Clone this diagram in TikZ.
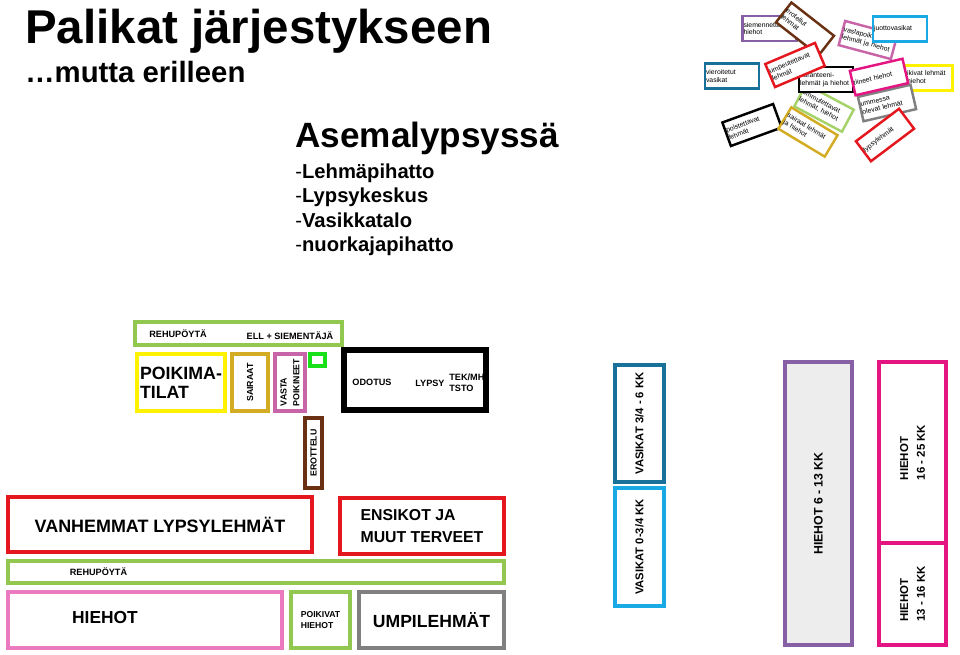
\documentclass[tikz,border=0pt]{standalone}
\usepackage{fontspec}
\setmainfont{Liberation Sans}
\usepackage{tikz}
\usepackage{xcolor}

\definecolor{penred}{RGB}{228,22,30}
\definecolor{pengreen}{RGB}{146,200,80}
\definecolor{lightgreen}{RGB}{165,210,105}
\definecolor{brightgreen}{RGB}{25,225,25}
\definecolor{penyellow}{RGB}{255,242,0}
\definecolor{pengold}{RGB}{212,172,35}
\definecolor{penorchid}{RGB}{200,100,168}
\definecolor{penpink}{RGB}{236,122,190}
\definecolor{penmagenta}{RGB}{228,20,130}
\definecolor{penbrown}{RGB}{105,48,18}
\definecolor{pengray}{RGB}{128,128,128}
\definecolor{penteal}{RGB}{25,112,152}
\definecolor{pensky}{RGB}{25,170,230}
\definecolor{penlilac}{RGB}{135,95,165}

\begin{document}
\begin{tikzpicture}[x=0.02cm, y=-0.02cm,
    pen/.style={rectangle, draw, fill=white, line width=2.3pt, inner sep=0pt},
    card/.style={rectangle, draw, fill=white, line width=1.4pt, minimum height=0.5cm,
      text width=1.04cm, inner xsep=0.02cm, inner ysep=1pt, align=left,
      font=\fontsize{3.9}{4.5}\selectfont},
    smalltxt/.style={inner sep=0pt, font=\bfseries\fontsize{5.2}{6.3}\selectfont},
    heading/.style={anchor=base west, inner sep=0pt}
  ]
  \useasboundingbox (0,0) rectangle (960,654);

  % otsikot
  \node[heading, font=\bfseries\fontsize{27}{30}\selectfont] (title) at (25,43) {Palikat järjestykseen};
  \node[heading, font=\bfseries\fontsize{16.7}{19}\selectfont] (subtitle) at (25,82) {…mutta erilleen};
  \node[heading, font=\bfseries\fontsize{20}{24}\selectfont] (station) at (295,147) {Asemalypsyssä};
  \node[heading, font=\fontsize{11.5}{13}\selectfont] (cowshed) at (295,178) {-\textbf{Lehmäpihatto}};
  \node[heading, font=\fontsize{11.5}{13}\selectfont] (milkcentre) at (295,202) {-\textbf{Lypsykeskus}};
  \node[heading, font=\fontsize{11.5}{13}\selectfont] (calfhouse) at (295,227) {-\textbf{Vasikkatalo}};
  \node[heading, font=\fontsize{11.5}{13}\selectfont] (youngshed) at (295,251) {-\textbf{nuorkajapihatto}};

  % palikat sekaisin
  \node[card, draw=penlilac] (seed) at (769.5,28.5) {siemennettävät\\hiehot};
  \node[card, draw=penbrown, rotate=-38] (sep) at (805,29) {erotellut\\lehmät};
  \node[card, draw=lightgreen, rotate=-28] (dryoff2) at (824,108) {ummutettavat\\lehmät, hiehot};
  \node[card, draw=black] (quar) at (826,79.5) {karanteeni-\\lehmät ja hiehot};
  \node[card, draw=penred, rotate=23] (dryoff) at (795,65) {umpeutettavat\\lehmät};
  \node[card, draw=black, rotate=20] (cull) at (752,125) {poistettavat\\lehmät};
  \node[card, draw=pengold, rotate=-31] (sickcows) at (808,132) {sairaat lehmät\\ja hiehot};
  \node[card, draw=penorchid, rotate=-15] (freshcows) at (868,40) {vastapoikineet\\lehmät ja hiehot};
  \node[card, draw=pensky] (milkcalves) at (900,29) {juottovasikat};
  \node[card, draw=yellow] (calving) at (925.5,78) {poikivat lehmät\\ja hiehot};
  \node[card, draw=pengray, rotate=13] (drycows) at (887,103) {ummessa\\olevat lehmät};
  \node[card, draw=penmagenta, rotate=13] (pregnant) at (879,77) {tiineet hiehot};
  \node[card, draw=penred, rotate=37] (milking) at (885,135) {lypsylehmät};
  \node[card, draw=penteal] (weaned) at (732,76) {vieroitetut\\vasikat};

  % lehmapihatto
  \node[pen, draw=pengreen, minimum width=4.14cm, minimum height=0.46cm] (feedtop) at (238.5,333.5) {};
  \node[smalltxt] (feedtoptxt) at (178,334) {REHUPÖYTÄ};
  \node[smalltxt] (vet) at (290,336) {ELL + SIEMENTÄJÄ};
  \node[pen, draw=penyellow, minimum width=1.76cm, minimum height=1.14cm, align=left,
    font=\bfseries\fontsize{10.1}{11}\selectfont] (calvpen) at (181,382.5) {POIKIMA-\\TILAT};
  \node[pen, draw=pengold, rotate=90, minimum width=1.14cm, minimum height=0.72cm,
    font=\bfseries\fontsize{5}{6}\selectfont] (sick) at (250,382.5) {SAIRAAT};
  \node[pen, draw=penorchid, rotate=90, minimum width=1.14cm, minimum height=0.6cm, align=left,
    font=\bfseries\fontsize{5}{7.2}\selectfont] (fresh) at (290,382.5) {VASTA\\POIKINEET};
  \node[pen, draw=brightgreen, minimum width=0.3cm, minimum height=0.24cm] (gate) at (317.5,360) {};
  \node[pen, draw=penbrown, rotate=90, minimum width=1.4cm, minimum height=0.34cm,
    font=\bfseries\fontsize{5}{6}\selectfont] (sorting) at (313.5,453) {EROTTELU};
  \node[pen, draw=black, line width=3.4pt, minimum width=2.84cm, minimum height=1.2cm] (parlour) at (415,380) {};
  \node[smalltxt] (waiting) at (372,382) {ODOTUS};
  \node[smalltxt] (milkroom) at (430,383) {LYPSY};
  \node[smalltxt, anchor=west, align=left] (office) at (449,382.5) {TEK/MH\\TSTO};
  \node[pen, draw=penred, minimum width=6.08cm, minimum height=1.1cm,
    font=\bfseries\fontsize{10.2}{12}\selectfont] (oldcows) at (160,524.5) {VANHEMMAT LYPSYLEHMÄT};
  \node[pen, draw=penred, minimum width=3.28cm, minimum height=1.12cm, align=left,
    font=\bfseries\fontsize{9}{12.5}\selectfont] (firstcalvers) at (422,526) {ENSIKOT JA\\MUUT TERVEET};
  \node[pen, draw=pengreen, minimum width=9.92cm, minimum height=0.44cm] (feedlow) at (256,572) {};
  \node[smalltxt] (feedlowtxt) at (98.5,572) {REHUPÖYTÄ};
  \node[pen, draw=penpink, minimum width=5.48cm, minimum height=1.12cm] (heifers) at (145,620) {};
  \node[inner sep=0pt, font=\bfseries\fontsize{9.9}{12}\selectfont] (heiferstxt) at (105,617) {HIEHOT};
  \node[pen, draw=pengreen, minimum width=1.18cm, minimum height=1.12cm, align=left,
    font=\bfseries\fontsize{4.9}{6.3}\selectfont] (calvheif) at (320.5,620) {POIKIVAT\\HIEHOT};
  \node[pen, draw=pengray, minimum width=2.9cm, minimum height=1.12cm,
    font=\bfseries\fontsize{10}{12}\selectfont] (dry) at (431.5,620) {UMPILEHMÄT};

  % vasikkatalo
  \node[pen, draw=penteal, rotate=90, minimum width=2.34cm, minimum height=0.98cm,
    font=\bfseries\fontsize{6.4}{8}\selectfont] (calvesold) at (639.5,423.5) {VASIKAT 3/4 - 6 KK};
  \node[pen, draw=pensky, rotate=90, minimum width=2.36cm, minimum height=0.98cm,
    font=\bfseries\fontsize{6.4}{8}\selectfont] (calvesyoung) at (639.5,547) {VASIKAT 0-3/4 KK};

  % nuorkajapihatto
  \node[pen, draw=penlilac, fill=black!7, rotate=90, minimum width=5.66cm, minimum height=1.34cm,
    font=\bfseries\fontsize{7}{8}\selectfont] (heif6) at (818.5,503.5) {HIEHOT 6 - 13 KK};
  \node[pen, draw=penmagenta, rotate=90, minimum width=3.62cm, minimum height=1.34cm, align=left,
    font=\bfseries\fontsize{6.5}{9.5}\selectfont] (heif16) at (912.5,452.5) {HIEHOT\\16 - 25 KK};
  \node[pen, draw=penmagenta, rotate=90, minimum width=2.04cm, minimum height=1.34cm, align=left,
    font=\bfseries\fontsize{6.5}{9.5}\selectfont] (heif13) at (912.5,594) {HIEHOT\\13 - 16 KK};
\end{tikzpicture}
\end{document}
